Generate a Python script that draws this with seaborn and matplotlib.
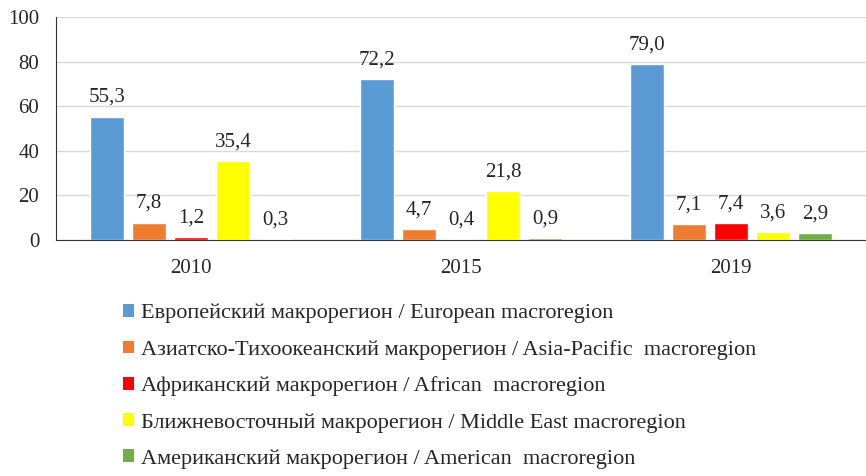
import pandas as pd
import seaborn as sns
import matplotlib.pyplot as plt
from matplotlib.patches import Patch

# Данные с графика
years = ['2010', '2015', '2019']
regions = [
    'Европейский макрорегион / European macroregion',
    'Азиатско-Тихоокеанский макрорегион / Asia-Pacific  macroregion',
    'Африканский макрорегион / African  macroregion',
    'Ближневосточный макрорегион / Middle East macroregion',
    'Американский макрорегион / American  macroregion',
]
european = [55.3, 72.2, 79.0]
asia_pacific = [7.8, 4.7, 7.1]
african = [1.2, 0.4, 7.4]
middle_east = [35.4, 21.8, 3.6]
american = [0.3, 0.9, 2.9]

colors = ['#5B9BD5', '#ED7D31', '#FF0000', '#FFFF00', '#70AD47']

series = [european, asia_pacific, african, middle_east, american]
rows = []
for region, values in zip(regions, series):
    for year, v in zip(years, values):
        rows.append({'year': year, 'region': region, 'value': v})
df = pd.DataFrame(rows)

sns.set_style('white')
plt.rcParams['font.family'] = ['Liberation Serif', 'DejaVu Serif']

fig = plt.figure(figsize=(8.66, 4.76), dpi=100)
ax = fig.add_axes([0.0647, 0.496, 0.9353, 0.468])

sns.barplot(data=df, x='year', y='value', hue='region', hue_order=regions,
            order=years, palette=colors, width=0.78, gap=0.2,
            saturation=1, legend=False, ax=ax)

ax.set_ylim(0, 100)
ax.set_xlim(-0.5, 2.5)
ax.set_yticks([0, 20, 40, 60, 80, 100])
ax.yaxis.grid(True, color='#D9D9D9', linewidth=1)
ax.set_axisbelow(True)
ax.set_xlabel('')
ax.set_ylabel('')
for side in ['top', 'right']:
    ax.spines[side].set_visible(False)
ax.spines['left'].set_color('#333333')
ax.spines['bottom'].set_color('#333333')
ax.tick_params(axis='x', length=0, pad=14, labelsize=15)
ax.tick_params(axis='y', length=0, pad=12, labelsize=15)

# Подписи значений с запятой
for container, values in zip(ax.containers, series):
    labels = [f'{v:.1f}'.replace('.', ',') for v in values]
    ax.bar_label(container, labels=labels, padding=7, fontsize=15)

handles = [Patch(facecolor=c, edgecolor='none') for c in colors]
fig.legend(handles, regions, loc='upper left', bbox_to_anchor=(0.142, 0.362),
           frameon=False, fontsize=16, handlelength=0.5, handleheight=0.5,
           handletextpad=0.3, labelspacing=0.75, borderaxespad=0, borderpad=0)

plt.savefig('out.png', dpi=100)
